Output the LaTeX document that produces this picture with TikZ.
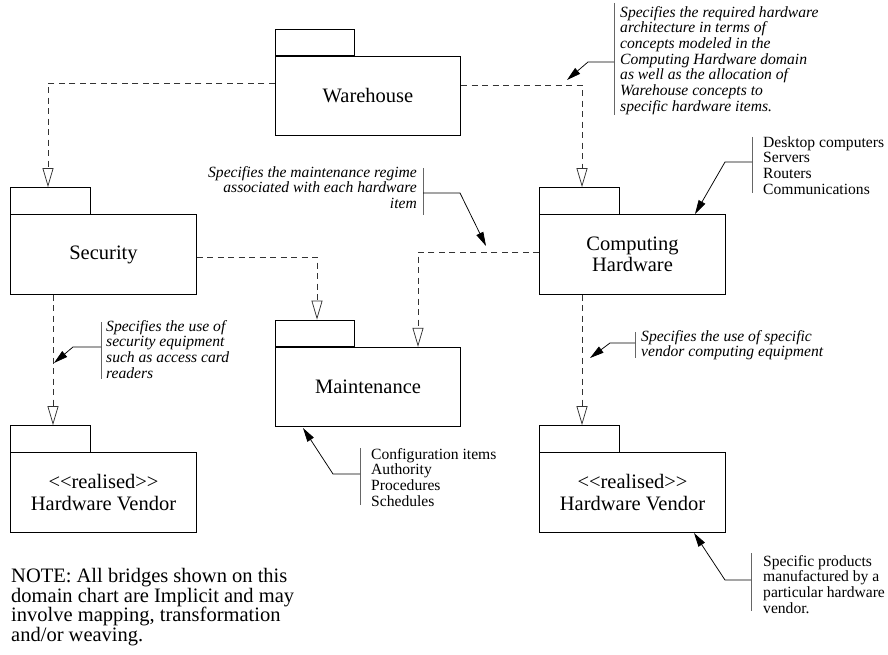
\documentclass[tikz,border=0pt]{standalone}
\usepackage{fontspec}
\setmainfont{Liberation Serif}
\usetikzlibrary{arrows.meta}
\begin{document}
\begin{tikzpicture}[x=1pt,y=-1pt,
  pkg/.style={draw, line width=0.75pt, minimum width=185.5pt, minimum height=79.5pt, inner sep=0pt, align=center, font=\fontsize{20.5}{21.5}\selectfont},
  tabbox/.style={draw, line width=0.75pt, minimum width=79.5pt, minimum height=26.5pt, inner sep=0pt, anchor=south west},
  dep/.style={line width=0.75pt, black!80, dash pattern=on 6pt off 4.5pt, -{Triangle[open,length=19pt,width=11pt]}},
  notearrow/.style={line width=0.75pt, -{Triangle[length=14pt,width=7.5pt]}},
  barline/.style={line width=0.75pt, black!60},
  ann/.style={inner sep=0pt, align=left, font=\fontsize{15.6}{15.7}\selectfont\itshape},
  lst/.style={inner sep=0pt, align=left, font=\fontsize{15.6}{15.7}\selectfont}]
\useasboundingbox (0,0) rectangle (888,655);

% packages
\node[pkg] (wh) at (368,96) {Warehouse};
\node[tabbox] (whtab) at (wh.north west) {};
\node[pkg] (sec) at (103.5,254.5) {Security};
\node[tabbox] (sectab) at (sec.north west) {};
\node[pkg] (mnt) at (368,387) {Maintenance};
\node[tabbox] (mnttab) at (mnt.north west) {};
\node[pkg] (ch) at (632.5,254.5) {Computing\\Hardware};
\node[tabbox] (chtab) at (ch.north west) {};
\node[pkg] (hvl) at (103.5,492.5) {<\kern0pt<realised>\kern0pt>\\Hardware Vendor};
\node[tabbox] (hvltab) at (hvl.north west) {};
\node[pkg] (hvr) at (632.5,492.5) {<\kern0pt<realised>\kern0pt>\\Hardware Vendor};
\node[tabbox] (hvrtab) at (hvr.north west) {};

% dependencies
\draw[dep] (wh.west |- 0,83) -| (sectab.north -| 48,0);
\draw[dep] (wh.east |- 0,85) -| (chtab.north -| 582,0);
\draw[dep] (sec.east |- 0,257) -| (mnttab.north -| 317,0);
\draw[dep] (ch.west |- 0,252) -| (mnt.north -| 418,0);
\draw[dep] (sec.south -| 53,0) -- (hvltab.north -| 53,0);
\draw[dep] (ch.south -| 582,0) -- (hvrtab.north -| 582,0);

% annotation A
\node[ann, anchor=north west] (tA) at (620,6) {Specifies the required hardware\\architecture in terms of\\concepts modeled in the\\Computing Hardware domain\\as well as the allocation of\\Warehouse concepts to\\specific hardware items.};
\draw[barline] (614,3) -- (614,115);
\coordinate (aA) at (614,62);
\coordinate (pA) at (567,80);
\draw[notearrow] (aA) -- (588,62) -- (pA);

% annotation B
\node[ann, anchor=north east, align=right] (tB) at (417,166) {Specifies the maintenance regime\\associated with each hardware\\item};
\draw[barline] (423,168) -- (423,215);
\coordinate (aB) at (423,193);
\coordinate (pB) at (486,246);
\draw[notearrow] (aB) -- (460,193) -- (pB);

% annotation C
\node[lst, anchor=north west] (tC) at (763,136) {Desktop computers\\Servers\\Routers\\Communications};
\draw[barline] (752,137) -- (752,193);
\coordinate (aC) at (752,162);
\coordinate (pC) at (695,214);
\draw[notearrow] (aC) -- (725,162) -- (pC);

% annotation D
\node[ann, anchor=north west] (tD) at (106,320) {Specifies the use of\\security equipment\\such as access card\\readers};
\draw[barline] (101,322) -- (101,379);
\coordinate (aD) at (101,347);
\coordinate (pD) at (54,363);
\draw[notearrow] (aD) -- (73,347) -- (pD);

% annotation E
\node[ann, anchor=north west] (tE) at (641,330) {Specifies the use of specific\\vendor computing equipment};
\draw[barline] (635,332) -- (635,358);
\coordinate (aE) at (635,343);
\coordinate (pE) at (590,358);
\draw[notearrow] (aE) -- (610,343) -- (pE);

% annotation F
\node[lst, anchor=north west] (tF) at (371,448) {Configuration items\\Authority\\Procedures\\Schedules};
\draw[barline] (360,448) -- (360,505);
\coordinate (aF) at (360,474);
\coordinate (pF) at (303,428);
\draw[notearrow] (aF) -- (333,474) -- (pF);

% annotation G
\node[lst, anchor=north west] (tG) at (763,555) {Specific products\\manufactured by a\\particular hardware\\vendor.};
\draw[barline] (751,553) -- (751,611);
\coordinate (aG) at (751,580);
\coordinate (pG) at (694,533);
\draw[notearrow] (aG) -- (725,580) -- (pG);

% note
\node[inner sep=0pt, align=left, anchor=north west, font=\fontsize{20.5}{19.6}\selectfont] (note) at (11,568) {NOTE: All bridges shown on this\\domain chart are Implicit and may\\involve mapping, transformation\\and/or weaving.};
\end{tikzpicture}
\end{document}
